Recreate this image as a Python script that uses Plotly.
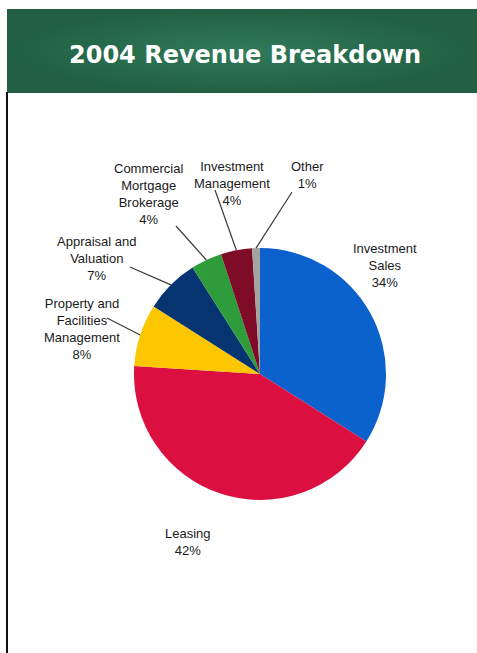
import math
import plotly.graph_objects as go

# Revenue split for 2004 (percent of total), clockwise from 12 o'clock
segments = ["Investment Sales", "Leasing", "Property and Facilities Management",
            "Appraisal and Valuation", "Commercial Mortgage Brokerage",
            "Investment Management", "Other"]
shares = [34, 42, 8, 7, 4, 4, 1]
label_lines = [["Investment", "Sales"], ["Leasing"], ["Property and", "Facilities", "Management"],
               ["Appraisal and", "Valuation"], ["Commercial", "Mortgage", "Brokerage"],
               ["Investment", "Management"], ["Other"]]
slice_colors = ["#0b62cc", "#dc1040", "#fcc600", "#063470", "#2f9c3c", "#7e0c26", "#a3a3a3"]

W, H = 477, 653
CX, CY, R = 260, 374, 126

# label placement (text-block centre) and leader-line tail, in page pixels
label_pos = [(385, 265), (188, 542), (82, 329), (97, 258), (148, 194), (232, 183), (307, 175)]
leader_tail = [None, None, (107, 318), (130, 267), (176, 226), (215, 190), (292, 192)]

fig = go.Figure()

# header band with a soft radial shading
fig.add_trace(go.Scatter(
    x=[7, 477, 477, 7, 7], y=[9, 9, 93, 93, 9], mode="lines", fill="toself",
    line=dict(width=0, color="rgba(0,0,0,0)"),
    fillgradient=dict(type="radial", colorscale=[[0, "#307a5a"], [1, "#216042"]]),
    hoverinfo="skip", showlegend=False, xaxis="x", yaxis="y"))

fig.add_trace(go.Pie(
    labels=segments, values=shares, sort=False, direction="clockwise", rotation=0,
    marker=dict(colors=slice_colors, line=dict(width=0)),
    textinfo="none", hoverinfo="label+percent", showlegend=False,
    domain=dict(x=[(CX - R) / W, (CX + R) / W], y=[(H - CY - R) / H, (H - CY + R) / H])))

shapes = [
    dict(type="line", xref="x", yref="y", x0=7, x1=7, y0=92, y1=653,
         line=dict(color="#111111", width=2)),
    dict(type="line", xref="x", yref="y", x0=476, x1=476, y0=93, y1=653,
         line=dict(color="#f2f2f2", width=1)),
]

annotations = [dict(xref="x", yref="y", x=245, y=55, text="<b>2004 Revenue Breakdown</b>",
                    showarrow=False, font=dict(family="DejaVu Sans", size=24, color="white"))]

total = sum(shares)
cum = 0
for name, v, lines, pos, tail in zip(segments, shares, label_lines, label_pos, leader_tail):
    mid = (cum + v / 2) / total * 2 * math.pi
    cum += v
    text = "<br>".join(lines + [f"{v}%"])
    annotations.append(dict(xref="x", yref="y", x=pos[0], y=pos[1], text=text,
                            showarrow=False, align="center",
                            font=dict(family="Liberation Sans", size=13, color="#1a1a1a")))
    if tail is not None:
        tx = CX + R * math.sin(mid)
        ty = CY - R * math.cos(mid)
        shapes.append(dict(type="line", xref="x", yref="y", x0=tail[0], y0=tail[1],
                           x1=tx, y1=ty, line=dict(color="#3a3a3a", width=1.2)))

fig.update_layout(
    width=W, height=H, margin=dict(l=0, r=0, t=0, b=0),
    paper_bgcolor="white", plot_bgcolor="rgba(0,0,0,0)",
    xaxis=dict(range=[0, W], visible=False, fixedrange=True),
    yaxis=dict(range=[H, 0], visible=False, fixedrange=True),
    shapes=shapes, annotations=annotations)

fig.write_html("out.html")
